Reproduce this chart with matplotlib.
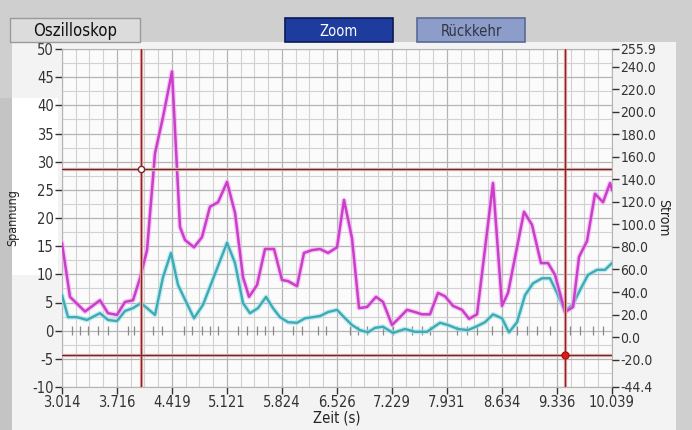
import numpy as np
import matplotlib
matplotlib.use("Agg")
import matplotlib.pyplot as plt
from matplotlib.patches import Rectangle

plt.rcParams['font.family'] = ['DejaVu Sans']
plt.rcParams['font.stretch'] = 'condensed'

# ---------------- Daten ----------------
zeit_spannung = [3.014, 3.116, 3.308, 3.499, 3.602, 3.716, 3.819, 3.921, 4.010, 4.100,
                 4.202, 4.304, 4.419, 4.521, 4.585, 4.700, 4.802, 4.904, 5.007, 5.122,
                 5.224, 5.326, 5.403, 5.505, 5.607, 5.722, 5.824, 5.901, 6.016, 6.105,
                 6.207, 6.310, 6.412, 6.527, 6.616, 6.718, 6.808, 6.910, 7.025, 7.114,
                 7.229, 7.331, 7.421, 7.523, 7.612, 7.714, 7.817, 7.906, 8.008, 8.123,
                 8.213, 8.315, 8.519, 8.634, 8.711, 8.915, 9.017, 9.132, 9.222, 9.311,
                 9.439, 9.541, 9.618, 9.720, 9.822, 9.924, 10.014, 10.039]
spannung = [15.5, 6.0, 3.4, 5.4, 3.1, 2.8, 5.1, 5.4, 9.3, 14.3,
            31.5, 37.9, 46.0, 18.4, 16.1, 14.8, 16.6, 22.0, 22.8, 26.4,
            20.9, 9.5, 6.0, 8.1, 14.5, 14.5, 9.0, 8.8, 7.9, 13.8,
            14.3, 14.5, 13.8, 14.8, 23.2, 16.4, 4.0, 4.2, 6.0, 5.1,
            1.0, 2.4, 3.7, 3.3, 2.9, 2.9, 6.7, 6.1, 4.4, 3.7,
            2.1, 2.9, 26.2, 4.4, 6.7, 21.1, 18.8, 12.0, 12.0, 9.9,
            3.3, 4.2, 13.1, 15.9, 24.3, 22.8, 26.2, 25.0]

zeit_strom = [3.014, 3.091, 3.206, 3.333, 3.499, 3.602, 3.716, 3.819, 3.921, 4.023,
              4.202, 4.304, 4.406, 4.496, 4.700, 4.815, 5.122, 5.224, 5.326, 5.415,
              5.517, 5.620, 5.709, 5.798, 5.901, 6.016, 6.118, 6.220, 6.310, 6.412,
              6.527, 6.616, 6.718, 6.820, 6.922, 7.012, 7.114, 7.242, 7.395, 7.523,
              7.676, 7.842, 7.944, 8.072, 8.200, 8.315, 8.417, 8.519, 8.634, 8.723,
              8.826, 8.928, 9.030, 9.145, 9.247, 9.337, 9.439, 9.541, 9.630, 9.733,
              9.848, 9.950, 10.039]
strom_skaliert = [6.3, 2.4, 2.4, 1.9, 3.1, 1.9, 1.7, 3.5, 4.0, 4.9,
                  2.8, 9.5, 13.8, 8.1, 2.2, 4.6, 15.6, 12.0, 4.9, 3.1,
                  4.0, 6.0, 4.0, 2.4, 1.5, 1.4, 2.2, 2.4, 2.6, 3.3,
                  3.7, 2.4, 1.0, 0.1, -0.3, 0.5, 0.7, -0.4, 0.3, -0.2,
                  -0.2, 1.4, 1.0, 0.3, 0.1, 0.8, 1.5, 2.9, 2.2, -0.3,
                  1.5, 6.3, 8.4, 9.3, 9.3, 6.7, 3.5, 4.7, 7.2, 9.9,
                  10.8, 10.8, 12.0]

# kleine Markierungen auf der Nulllinie
marker_zeit = [3.142, 3.244, 3.346, 3.474, 3.602, 3.857, 3.934, 4.176, 4.291, 4.572,
               4.675, 4.802, 4.904, 5.007, 5.262, 5.377, 5.505, 5.607, 5.709, 5.965,
               6.080, 6.284, 6.386, 6.692, 6.795, 6.910, 7.114, 7.242, 7.485, 7.612,
               7.714, 8.059, 8.187, 8.315, 8.506, 8.634, 8.826, 8.954, 9.081, 9.247,
               9.503, 9.631, 9.797, 9.925]

cursor_zeit = [4.023, 9.439]
cursor_wert = [28.7, -4.3]

x_ticks = [3.014, 3.716, 4.419, 5.121, 5.824, 6.526, 7.229, 7.931, 8.634, 9.336, 10.039]
y_ticks = [50, 45, 40, 35, 30, 25, 20, 15, 10, 5, 0, -5, -10]
strom_ticks = [255.9, 240, 220, 200, 180, 160, 140, 120, 100, 80, 60, 40, 20, 0, -20, -44.4]

# ---------------- Figur ----------------
fig = plt.figure(figsize=(6.92, 4.30), dpi=100, facecolor='#cfcfcf')

# Panel-Hintergrund (hinter den Achsen)
fig.patches.append(Rectangle((12 / 692, 0), (676 - 12) / 692, 1 - 42 / 430,
                             transform=fig.transFigure, facecolor='#f3f3f3',
                             edgecolor='none', zorder=-2))
fig.patches.append(Rectangle((12 / 692, 1 - 275 / 430), 46 / 692, 177 / 430,
                             transform=fig.transFigure, facecolor='white',
                             edgecolor='none', zorder=-1))
fig.patches.append(Rectangle((0, 0), 12 / 692, 1 - 98 / 430,
                             transform=fig.transFigure, facecolor='#c4c4c4',
                             edgecolor='none', zorder=-1))

# Reiter und Knöpfe
fig.patches.append(Rectangle((10 / 692, 1 - 42 / 430), 130 / 692, 24 / 430,
                             transform=fig.transFigure, facecolor='#dcdcdc',
                             edgecolor='#9a9a9a', lw=1, zorder=1))
fig.text(75 / 692, 1 - 31 / 430, 'Oszilloskop', ha='center', va='center',
         fontsize=12, color='#111111')
fig.patches.append(Rectangle((285 / 692, 1 - 42 / 430), 108 / 692, 24 / 430,
                             transform=fig.transFigure, facecolor='#1d3c9e',
                             edgecolor='#0a1a55', lw=1.2, zorder=1))
fig.text(339 / 692, 1 - 31 / 430, 'Zoom', ha='center', va='center',
         fontsize=10.5, color='white')
fig.patches.append(Rectangle((417 / 692, 1 - 42 / 430), 108 / 692, 24 / 430,
                             transform=fig.transFigure, facecolor='#8c9dc9',
                             edgecolor='#5a6a95', lw=1.2, zorder=1))
fig.text(471 / 692, 1 - 31 / 430, 'Rückkehr', ha='center', va='center',
         fontsize=10.5, color='#333344')

ax = fig.add_axes([62 / 692, 1 - 387 / 430, 550 / 692, 338 / 430])
ax.set_facecolor('#fbfbfb')
ax.set_xlim(x_ticks[0], x_ticks[-1])
ax.set_ylim(-10, 50)

# Gitter
minor_x = []
for a, b in zip(x_ticks[:-1], x_ticks[1:]):
    minor_x += list(np.linspace(a, b, 5)[1:-1])
ax.set_xticks(minor_x, minor=True)
ax.set_yticks(np.arange(-10, 50, 2.5), minor=True)
ax.grid(True, which='major', color='#b4b4b4', lw=0.9)
ax.grid(True, which='minor', color='#d2d2d2', lw=0.8)
ax.tick_params(which='minor', length=0)
ax.set_axisbelow(True)

ax.set_xticks(x_ticks)
ax.set_xticklabels([f'{v:.3f}' for v in x_ticks])
ax.set_yticks(y_ticks)
ax.set_yticklabels([str(v) for v in y_ticks])
ax.tick_params(axis='both', which='major', labelsize=10.5, colors='#333333',
               length=5, width=1, pad=1)
for s in ax.spines.values():
    s.set_color('#b4b4b4')

# Markierungen
ax.vlines(marker_zeit, -0.8, 0.8, color='#8a8a8a', lw=0.9, zorder=2)

# Kurven mit leichtem Schein
ax.plot(zeit_strom, strom_skaliert, color='#9fe4ec', lw=3.6, alpha=0.6, zorder=3)
ax.plot(zeit_strom, strom_skaliert, color='#3fa9b4', lw=1.7, zorder=4)
ax.plot(zeit_spannung, spannung, color='#f3a6f0', lw=3.6, alpha=0.6, zorder=5)
ax.plot(zeit_spannung, spannung, color='#c93fc9', lw=1.8, zorder=6)

# Cursor
for t in cursor_zeit:
    ax.axvline(t, color='#eab0b0', lw=2.4, zorder=7)
    ax.axvline(t, color='#8b2323', lw=1.0, zorder=8)
for v in cursor_wert:
    ax.axhline(v, color='#e9c0c0', lw=2.4, zorder=7)
    ax.axhline(v, color='#6b2a2a', lw=1.0, zorder=8)
ax.plot(cursor_zeit[0], cursor_wert[0], 'o', ms=4.5, mfc='white',
        mec='#7a2a2a', mew=1, zorder=9)
ax.plot(cursor_zeit[1], cursor_wert[1], 'o', ms=5, mfc='#e01818',
        mec='#b01010', zorder=9)

ax.set_xlabel('Zeit (s)', fontsize=10.5, color='#222222', labelpad=0)
ax.set_ylabel('Spannung', fontsize=9, color='#222222')
ax.yaxis.set_label_coords(-0.078, 0.5)

# rechte Achse Strom
ax2 = ax.twinx()
ax2.set_ylim(-44.4, 255.9)
ax2.set_yticks(strom_ticks)
ax2.set_yticklabels([f'{v:.1f}' for v in strom_ticks])
ax2.tick_params(axis='y', labelsize=10, colors='#333333', length=5, width=1, pad=1)
for s in ax2.spines.values():
    s.set_visible(False)
ax2.set_ylabel('Strom', fontsize=10, rotation=270, color='#222222')
ax2.yaxis.set_label_coords(1.105, 0.5)

fig.savefig('out.png', dpi=100, facecolor=fig.get_facecolor())
